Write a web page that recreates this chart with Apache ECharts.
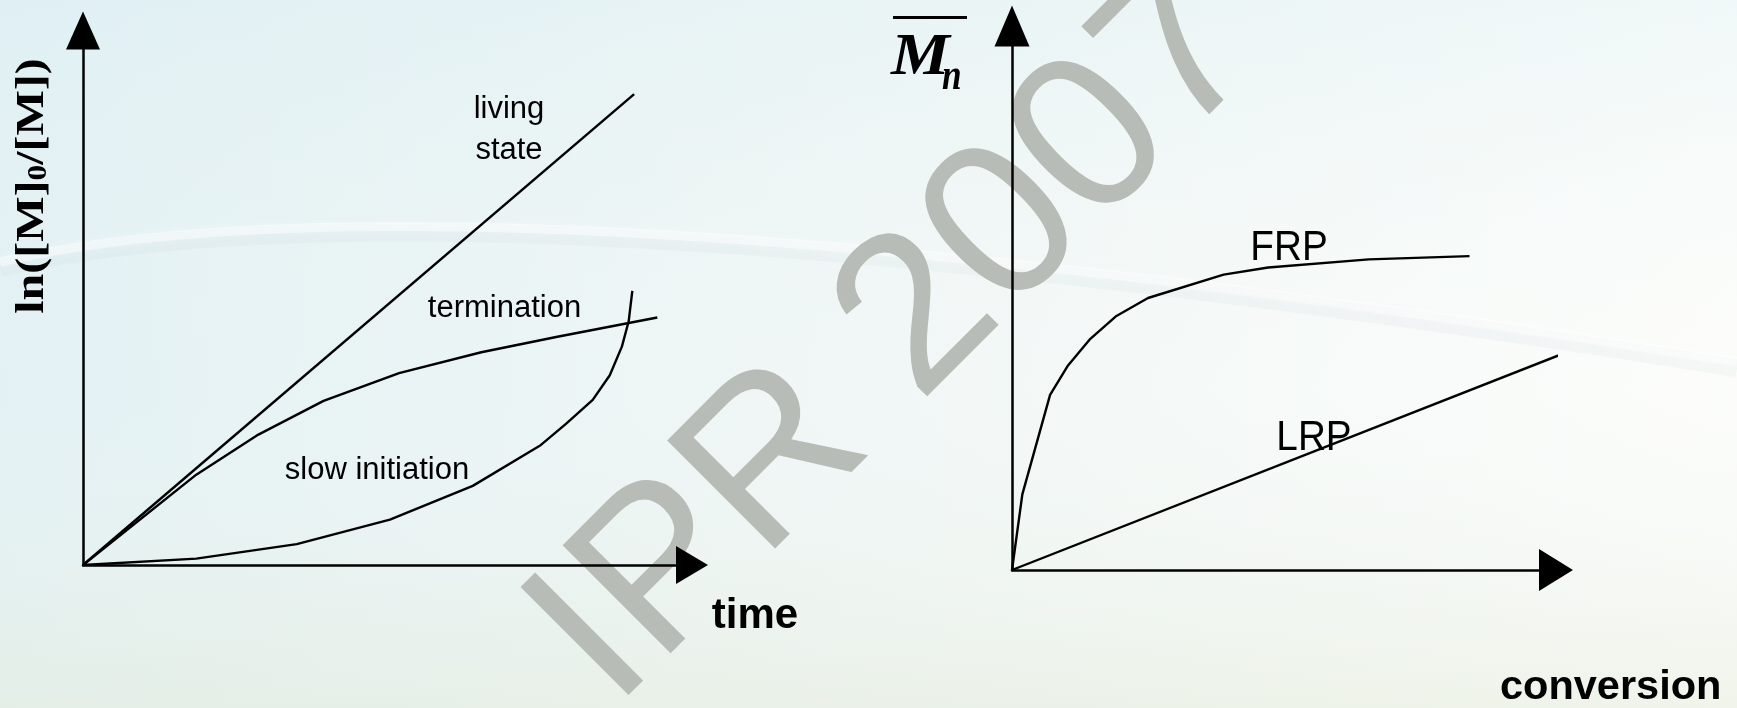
<!DOCTYPE html>
<html>
<head>
<meta charset="utf-8">
<style>
  html, body {margin:0;padding:0;overflow:hidden;}
  #chart {width:1737px;height:708px;}
</style>
<script src="https://cdn.jsdelivr.net/npm/echarts@6/dist/echarts.min.js"></script>
</head>
<body>
<div id="chart"></div>
<script>
    // left panel: ln([M]0/[M]) against time (schematic units 0..100)
    var livingState = [[0, 0], [90.5, 88.1]];
    var termination = [[0, 0], [18.6, 16.9], [28.8, 24.4], [39.5, 30.7], [51.9, 35.9], [65.4, 39.8], [77.9, 42.7], [94.3, 46.3]];
    var slowInitiation = [[0, 0], [18.6, 1.2], [35.1, 3.9], [50.4, 8.5], [64.0, 14.8], [75.0, 22.3], [79.3, 26.4],
        [83.7, 30.9], [86.5, 35.5], [88.5, 40.9], [89.6, 45.6], [90.2, 51.3]];

    // right panel: Mn against conversion
    var frp = [[0, 0], [1.9, 13.9], [7.0, 32.2], [10.3, 37.6], [14.4, 42.5], [19.2, 46.7], [25.0, 50.0],
        [38.9, 54.3], [47.1, 55.6], [65.6, 57.1], [84.1, 57.7]];
    var lrp = [[0, 0], [102.4, 40.2]];

    var chart = echarts.init(document.getElementById('chart'));

    var sans = '"Liberation Sans", Arial, sans-serif';
    var serif = '"Liberation Serif", "Times New Roman", serif';
    var ink = '#000';
    var mark = '#b8bcb7';

    function axis(gridIndex, arrow) {
        return {
            type: 'value', gridIndex: gridIndex, min: 0, max: 100, z: 10,
            axisLine: {
                show: true, onZero: false,
                symbol: ['none', 'triangle'], symbolSize: arrow,
                lineStyle: {color: ink, width: 2.5}
            },
            axisTick: {show: false},
            axisLabel: {show: false},
            splitLine: {show: false}
        };
    }

    function curve(data, idx) {
        return {
            type: 'line', xAxisIndex: idx, yAxisIndex: idx, data: data,
            symbol: 'none', showSymbol: false, clip: false, silent: true, z: 10,
            lineStyle: {color: ink, width: 2.4}
        };
    }

    function label(text, x, y, font, extra) {
        var el = {
            type: 'text', x: x, y: y, z: 20, silent: true,
            style: {text: text, font: font, fill: ink, align: 'center', verticalAlign: 'middle'}
        };
        for (var k in extra) { el[k] = extra[k]; }
        return el;
    }

    var option = {
        animation: false,
        backgroundColor: {
            type: 'linear', x: 0, y: 0, x2: 1, y2: 0,
            colorStops: [
                {offset: 0, color: '#e3f1f4'},
                {offset: 0.5, color: '#f1f7f6'},
                {offset: 1, color: '#fcfdfb'}
            ]
        },
        grid: [
            {left: 83, top: 30.5, right: 1045, bottom: 143},
            {left: 1012, top: 26, right: 181, bottom: 138}
        ],
        xAxis: [axis(0, [38, 32]), axis(1, [42, 34])],
        yAxis: [axis(0, [34, 38]), axis(1, [35, 41])],
        series: [
            curve(livingState, 0),
            curve(termination, 0),
            curve(slowInitiation, 0),
            curve(frp, 1),
            curve(lrp, 1)
        ],
        graphic: [
            // soft background shading
            {
                type: 'rect', z: 0, silent: true,
                shape: {x: 0, y: 0, width: 1737, height: 708},
                style: {
                    fill: {
                        type: 'linear', x: 0, y: 0, x2: 0, y2: 1,
                        colorStops: [
                            {offset: 0, color: 'rgba(214,236,242,0.3)'},
                            {offset: 0.55, color: 'rgba(240,246,244,0)'},
                            {offset: 1, color: 'rgba(228,235,218,0.5)'}
                        ]
                    }
                }
            },
            {
                type: 'bezierCurve', z: 0, silent: true,
                shape: {x1: 0, y1: 268, cpx1: 450, cpy1: 163, x2: 1737, y2: 368},
                style: {stroke: 'rgba(200,214,218,0.14)', lineWidth: 18, fill: null}
            },
            {
                type: 'bezierCurve', z: 0, silent: true,
                shape: {x1: 0, y1: 262, cpx1: 450, cpy1: 157, x2: 1737, y2: 362},
                style: {stroke: 'rgba(255,255,255,0.45)', lineWidth: 9, fill: null,
                    shadowBlur: 10, shadowColor: 'rgba(255,255,255,0.6)'}
            },
            // watermark
            {
                type: 'text', x: 898, y: 339, rotation: Math.PI / 4, z: 1, silent: true,
                style: {text: 'IPR 2007', font: '222px ' + sans, fill: mark,
                    align: 'center', verticalAlign: 'middle'}
            },
            // left panel texts
            label('living', 509, 109, '31px ' + sans),
            label('state', 509, 150.4, '31px ' + sans),
            label('termination', 504.5, 308, '31px ' + sans),
            label('slow initiation', 377, 470.4, '31px ' + sans),
            label('time', 755, 616, 'bold 42px ' + sans),
            {
                type: 'text', x: 31, y: 186, rotation: Math.PI / 2, scaleX: 1.17, z: 20, silent: true,
                style: {
                    text: '{a|ln([M]}{s|0}{a|/[M])}',
                    align: 'center', verticalAlign: 'middle',
                    rich: {
                        a: {font: 'bold 41px ' + serif, fill: ink, verticalAlign: 'bottom', lineHeight: 44},
                        s: {font: 'bold 27px ' + serif, fill: ink, verticalAlign: 'bottom', lineHeight: 40}
                    }
                }
            },
            // right panel texts
            label('FRP', 1289, 247.7, '43px ' + sans, {scaleX: 0.9}),
            label('LRP', 1314, 437.7, '43px ' + sans, {scaleX: 0.9}),
            label('conversion', 1610.7, 687.8, 'bold 41.5px ' + sans),
            {
                type: 'line', z: 20, silent: true,
                shape: {x1: 893, y1: 17.5, x2: 967, y2: 17.5},
                style: {stroke: ink, lineWidth: 3}
            },
            {
                type: 'text', x: 891, y: 58.3, scaleX: 1.12, z: 20, silent: true,
                style: {text: 'M', font: 'italic bold 59px ' + serif, fill: ink, align: 'left', verticalAlign: 'middle'}
            },
            {
                type: 'text', x: 942, y: 77.6, scaleX: 0.8, z: 20, silent: true,
                style: {text: 'n', font: 'italic bold 44px ' + serif, fill: ink, align: 'left', verticalAlign: 'middle'}
            }
        ]
    };

    chart.setOption(option);

    window.onresize = function () {
        chart.resize();
    };
</script>
</body>
</html>
